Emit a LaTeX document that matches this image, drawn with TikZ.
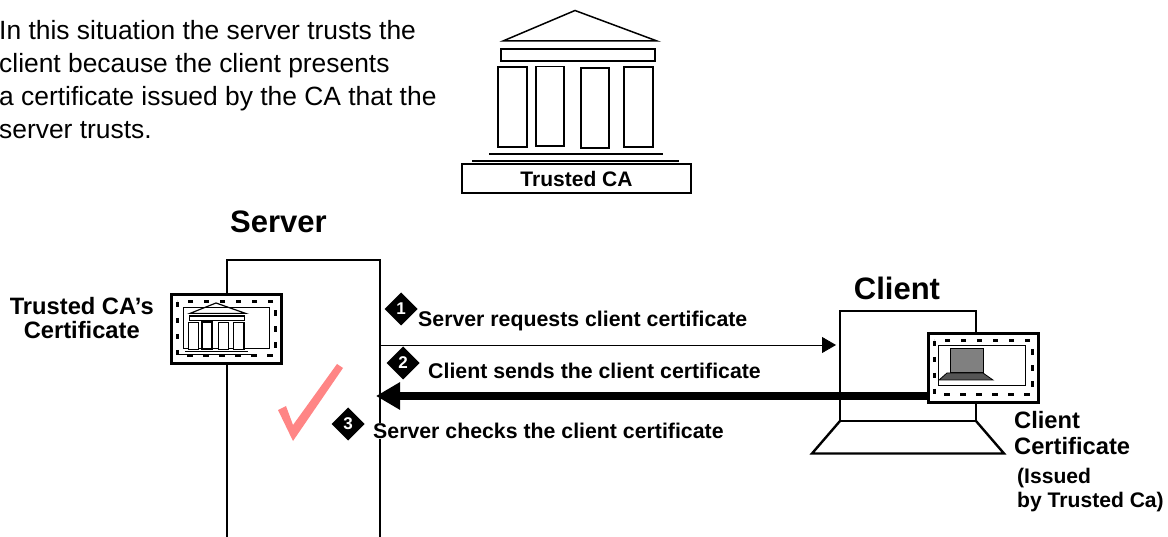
\documentclass[tikz,border=0pt]{standalone}
\usepackage{fontspec}
\setmainfont{Liberation Sans}
\usetikzlibrary{arrows.meta,positioning,shapes.geometric}

\definecolor{checkpink}{HTML}{FF8585}
\definecolor{screengray}{HTML}{808080}
\definecolor{basegray}{HTML}{555555}

\tikzset{
  boxline/.style={draw,line width=2.7pt,fill=none,outer sep=0pt,inner sep=0pt},
  certframe/.style={draw,line width=3pt,fill=white,outer sep=0pt,inner sep=0pt,minimum width=110pt,minimum height=69pt},
  certdash/.style={line width=3pt,dash pattern=on 5.5pt off 10.5pt},
  certinner/.style={draw,line width=1pt,outer sep=0pt,inner sep=0pt},
  stepmark/.style={diamond,fill=black,text=white,inner sep=0pt,minimum size=33pt,font=\bfseries\fontsize{17}{17}\selectfont,outer sep=0pt},
  steptext/.style={anchor=west,inner sep=0pt,font=\bfseries\fontsize{21.3}{24}\selectfont},
  tag/.style={align=center,inner sep=0pt,font=\bfseries\fontsize{23.7}{24}\selectfont},
  title/.style={inner sep=0pt,font=\bfseries\fontsize{31}{34}\selectfont},
  bank/.pic={
    \draw (-72,30.5) -- (0,0) -- (82,30.5) -- cycle;
    \draw[fill=white] (-74,38.5) rectangle (80,50.5);
    \draw[fill=white] (-77,56.5) rectangle (-48,136.5);
    \draw[fill=white] (-39,56) rectangle (-11,135.5);
    \draw[fill=white] (6,57.5) rectangle (34,137.5);
    \draw[fill=white] (49,56.5) rectangle (78,136.5);
    \draw (-86,143.5) -- (88,143.5);
    \draw (-103,150.5) -- (104,150.5);
  }
}

\begin{document}
\begin{tikzpicture}[x=1pt,y=-1pt]
  \useasboundingbox (0,0) rectangle (1168,537);
  \clip (0,0) rectangle (1168,537);

  % trusted CA
  \pic[line width=1.5pt] at (575,10.5) {bank};
  \node[draw,line width=1.5pt,fill=white,outer sep=0pt,minimum width=229pt,minimum height=29pt,inner sep=0pt,
    font=\bfseries\fontsize{21}{24}\selectfont] (cabox) at (576.5,178.5) {Trusted CA};
  \node[anchor=north west,align=left,inner sep=0pt,font=\fontsize{26.4}{33}\selectfont] (intro) at (-1,20)
    {In this situation the server trusts the\\client because the client presents\\a certificate issued by the CA that the\\server trusts.};

  % server and client
  \node[boxline,minimum width=153pt,minimum height=340pt] (server) at (303.5,430) {};
  \node[boxline,line width=2.4pt,minimum width=136pt,minimum height=110pt] (client) at (908,366) {};
  \node[title] (servername) [above=38pt of server.north,xshift=-25pt,anchor=center] {Server};
  \node[title] (clientname) [above=23pt of client.north,xshift=-11pt,anchor=center] {Client};
  \draw[line width=2.4pt,line join=miter] (client.south west) -- (812,453.5) -- (1004,453.5) -- (client.south east);

  % certificates
  \coordinate (reqstart) at (server.east |- 0,345);
  \coordinate (reqend) at (836,345);
  \coordinate (sendstart) at (927,396);
  \coordinate (sendend) at (376,396);
  \draw[-{Triangle[length=14pt,width=16pt]},line width=.8pt] (reqstart) -- (reqend);
  \draw[-{Triangle[length=24pt,width=26pt]},line width=8pt] (sendstart) -- (sendend);

  \node[certframe] (srvcert) at (226,329.5) {};
  \draw[certdash] (177,302) rectangle (275,356);
  \node[certinner,minimum width=86pt,minimum height=41pt] (srvinner) at (226,328.5) {};
  \pic[line width=1.2pt,xscale=.36,yscale=.34] at (216,303) {bank};
  \node[tag] (srvtag) [left=17pt of srvcert.west,yshift=11pt,anchor=east] {Trusted CA’s\\Certificate};

  \node[certframe] (clicert) at (983,368) {};
  \draw[certdash] (934,341) rectangle (1032,395);
  \node[certinner,minimum width=87pt,minimum height=40pt] (cliinner) at (981.5,366) {};
  \draw[line width=1pt,fill=screengray] (950,349) rectangle (983,373);
  \draw[line width=.8pt,fill=basegray] (947,373) -- (983,373) -- (993,380) -- (939,380) -- cycle;
  \node[tag,align=left,anchor=north west,font=\bfseries\fontsize{23.7}{26}\selectfont] (clitag) at (1014,411) {Client\\Certificate};
  \node[tag,align=left,anchor=north west,font=\bfseries\fontsize{21.1}{24}\selectfont] (issuer) at (1017,468) {(Issued\\by Trusted Ca)};

  % steps
  \fill[checkpink] (337,364) -- (343,368) -- (293,441) -- (278,410) -- (286,406) -- (293,425) -- cycle;
  \node[stepmark] (s1) at (401,309) {1};
  \node[stepmark] (s2) at (403,363) {2};
  \node[stepmark] (s3) at (348,424) {3};
  \node[steptext] (t1) at (418,321) {Server requests client certificate};
  \node[steptext] (t2) at (428,371) {Client sends the client certificate};
  \node[steptext,fill=white] (t3) at (373,431) {Server checks the client certificate};
\end{tikzpicture}
\end{document}
